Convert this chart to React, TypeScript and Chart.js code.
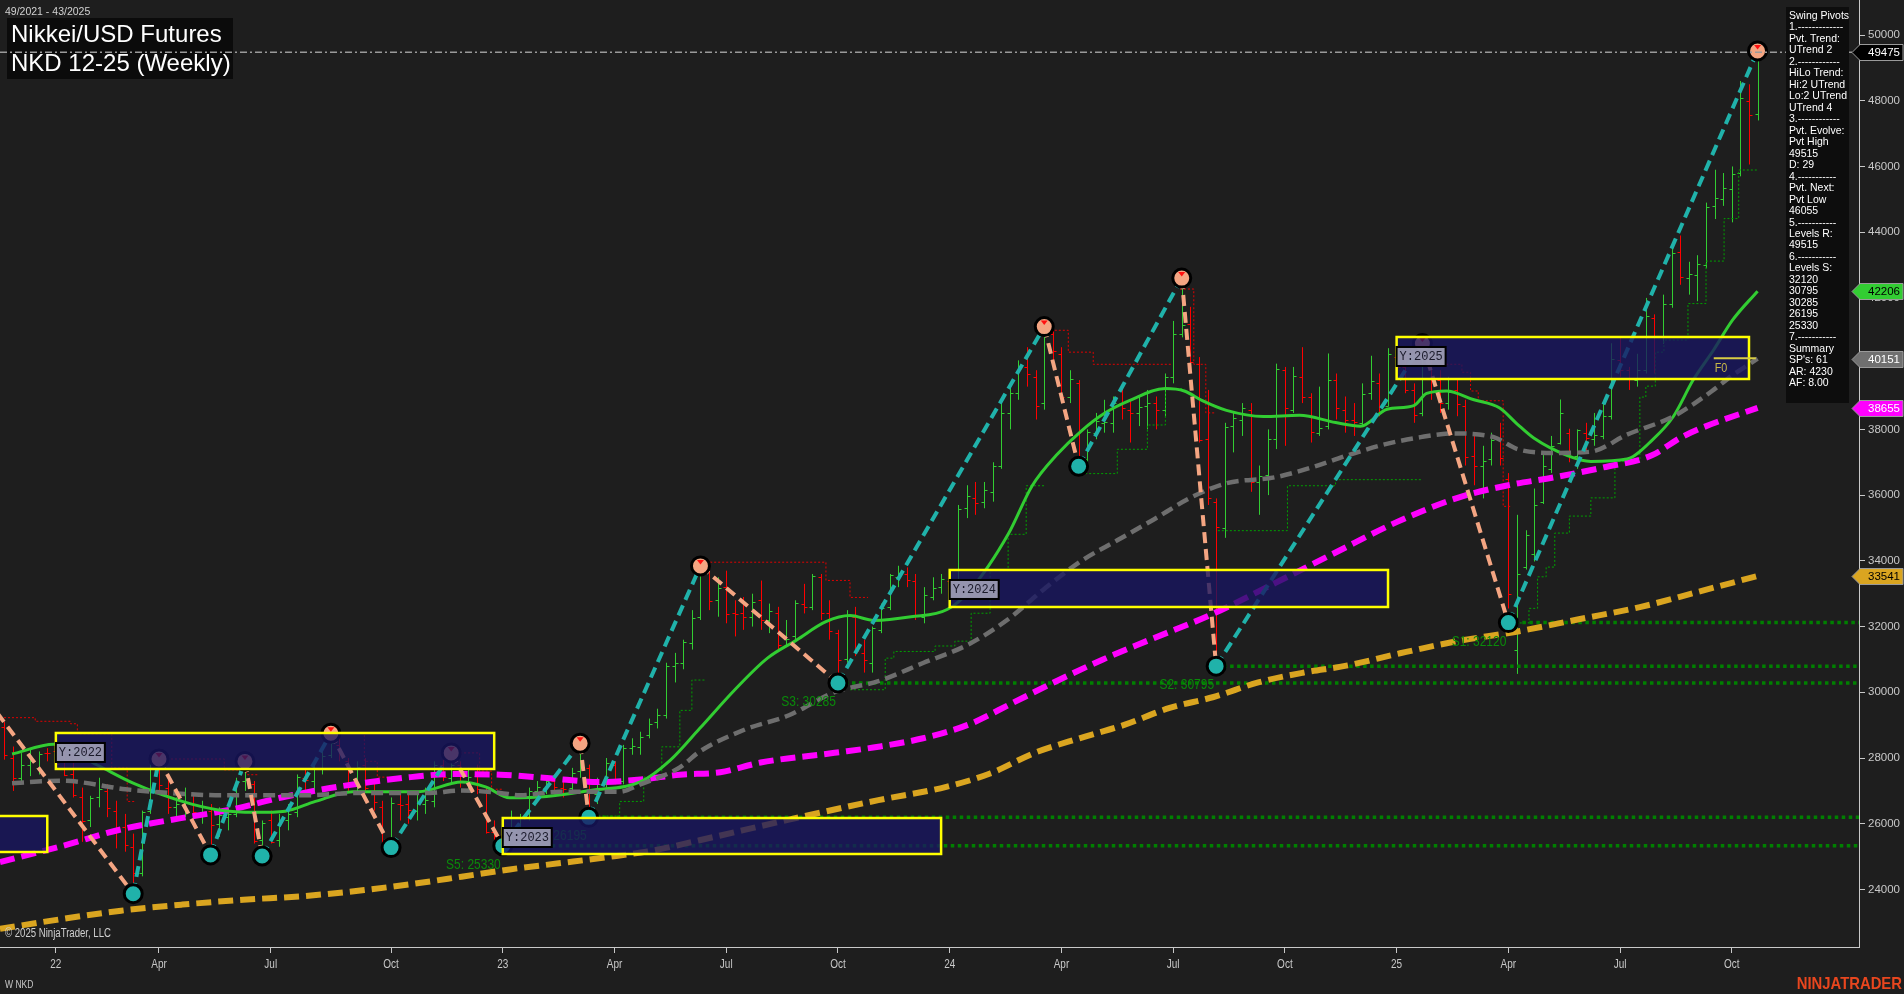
import { useEffect, useRef } from 'react';
import { Chart, registerables } from 'chart.js';

Chart.register(...registerables);

// ---------------- data ----------------
// weeks are counted from the weekly bar of 7 Jan 2022 (= week 0)
const FIRST_BAR_WEEK = -6;
const X_MIN = -6.5;
const X_MAX = 209.8;
const Y_MIN = 22250;
const Y_MAX = 51065;

// [open, high, low, close]
const ohlc2021 = [
  [28950, 29100, 27950, 28100], [28000, 28350, 27000, 27380], [27400, 28150, 27200, 27790],
  [27800, 28300, 27450, 27900], [27700, 28200, 27500, 28130], [28150, 28300, 27900, 28140],
];
const ohlc2022 = [
  [28200, 28700, 27800, 27830], [27900, 28300, 27450, 27470], [27500, 27900, 26800, 26870],
  [26800, 27100, 25450, 26070], [26100, 26850, 25900, 26790], [26800, 27400, 26500, 27050],
  [27000, 27200, 26200, 26470], [26400, 26700, 25250, 25830], [25900, 26300, 25150, 25340],
  [25300, 25700, 23870, 24510], [24500, 26400, 24400, 26350], [26400, 27900, 26300, 27670],
  [27700, 27970, 27000, 27190], [27100, 27400, 26300, 26500], [26500, 26800, 26100, 26610],
  [26600, 27100, 26200, 26620], [26600, 26900, 25900, 26370], [26300, 26700, 26000, 26520],
  [26400, 26600, 25050, 25950], [26000, 26500, 25600, 26260], [26200, 26500, 25800, 26300],
  [26300, 27400, 26200, 27280], [27300, 27900, 27000, 27340], [27200, 27300, 25400, 25480],
  [25500, 26100, 25020, 26010], [26100, 26400, 25400, 25450], [25500, 26300, 25300, 26040],
  [26100, 26600, 25800, 26310], [26350, 27500, 26200, 27430], [27400, 27700, 27000, 27320],
  [27300, 27800, 27000, 27700], [27700, 28300, 27500, 28070], [28100, 28750, 28000, 28450],
  [28400, 28600, 27900, 28160], [27900, 28000, 27000, 27170], [27200, 27900, 26900, 27730],
  [27800, 28000, 27000, 27090], [27000, 27300, 26400, 26670], [26500, 26700, 25400, 25460],
  [25400, 26800, 25270, 26640], [26600, 26900, 26100, 26580], [26600, 26900, 26000, 26410],
  [26400, 26900, 26100, 26620], [26600, 27100, 26300, 26720], [26700, 27900, 26500, 27780],
  [27800, 28000, 27300, 27420], [27400, 28160, 27200, 27800], [27800, 27900, 27100, 27300],
  [27300, 27700, 27000, 27420], [27450, 27800, 26900, 27050], [27000, 27100, 25700, 25760],
  [25750, 26100, 25400, 25620],
];
const ohlc2023 = [
  [25600, 25900, 25310, 25640], [25600, 26400, 25500, 25740], [25700, 26300, 25600, 26170],
  [26200, 27100, 26100, 27000], [27000, 27300, 26700, 27130], [27100, 27400, 26900, 27290],
  [27300, 27500, 26900, 27130], [27100, 27400, 26800, 27070], [27100, 27700, 26900, 27550],
  [27600, 28450, 27400, 27760], [27700, 27800, 26160, 26950], [26900, 27400, 26600, 27200],
  [27200, 28000, 27100, 27840], [27800, 27900, 27200, 27320], [27300, 28400, 27200, 28300],
  [28300, 28600, 28100, 28360], [28350, 28800, 28100, 28650], [28700, 29200, 28600, 29050],
  [29100, 29500, 28900, 29300], [29300, 30900, 29200, 30800], [30800, 31200, 30300, 30900],
  [30900, 31600, 30700, 31520], [31500, 32500, 31300, 32270], [32300, 33846, 32200, 33700],
  [33700, 33800, 32500, 32780], [32800, 33500, 32300, 33180], [33200, 33700, 32100, 32390],
  [32400, 32800, 31700, 32380], [32400, 32900, 31900, 32300], [32300, 33000, 32000, 32760],
  [32800, 33400, 31900, 32190], [32200, 32700, 31800, 32470], [32400, 32600, 31300, 31450],
  [31400, 32200, 31400, 31620], [31700, 32800, 31600, 32710], [32700, 33300, 32400, 32600],
  [32600, 33600, 32500, 33530], [33500, 33600, 32200, 32400], [32400, 32800, 31600, 31850],
  [31800, 31900, 30270, 30990], [31000, 32500, 30900, 32310], [32300, 32600, 31100, 31260],
  [31200, 31600, 30600, 30990], [30900, 32000, 30600, 31950], [31900, 32700, 31800, 32570],
  [32600, 33600, 32500, 33580], [33500, 33850, 33200, 33630], [33600, 33800, 33200, 33430],
  [33400, 33600, 32200, 32310], [32300, 33200, 32100, 32970], [32900, 33500, 32800, 33170],
  [33200, 33600, 33000, 33460],
];
const ohlc2024 = [
  [33400, 33600, 32800, 33380], [33400, 35700, 33300, 35580], [35600, 36300, 35300, 35960],
  [35900, 36400, 35400, 35750], [35800, 36400, 35600, 36160], [36100, 37000, 35800, 36900],
  [36900, 38800, 36800, 38490], [38500, 39300, 38000, 39100], [39100, 40100, 38900, 39910],
  [39900, 40500, 39300, 39690], [39600, 39800, 38300, 38710], [38800, 41127, 38600, 40890],
  [40900, 41000, 40000, 40370], [40300, 40500, 38800, 38990], [39000, 39800, 38800, 39520],
  [39400, 39500, 36880, 37070], [37100, 38000, 37000, 37930], [37900, 38500, 37700, 38240],
  [38200, 38900, 37900, 38230], [38200, 39000, 37900, 38790], [38800, 39400, 38300, 38650],
  [38600, 38900, 37600, 38490], [38500, 39000, 38100, 38680], [38700, 39200, 38000, 38810],
  [38800, 39000, 38000, 38600], [38600, 39700, 38400, 39580], [39600, 41300, 39400, 40910],
  [40900, 42603, 40800, 41190], [41200, 41730, 39800, 40060], [40000, 40200, 37600, 37670],
  [37700, 39200, 35700, 35910], [35800, 35900, 30780, 35020], [35000, 38200, 34700, 38060],
  [38100, 38500, 37300, 38360], [38300, 38800, 37800, 38650], [38600, 38800, 36100, 36390],
  [36400, 36900, 35400, 36580], [36600, 38000, 36000, 37720], [37700, 40000, 37400, 39830],
  [39800, 39900, 37500, 38640], [38600, 39900, 38500, 39610], [39600, 40500, 38800, 38980],
  [39000, 39100, 37600, 37910], [37900, 39300, 37800, 38050], [38100, 40310, 38000, 39500],
  [39500, 39700, 38300, 38640], [38600, 39000, 37900, 38280], [38300, 38800, 37800, 38210],
  [38200, 39400, 38100, 39090], [39100, 40240, 38900, 39470], [39400, 39700, 38400, 38700],
  [38700, 40470, 38700, 40280],
];
const ohlc2025 = [
  [40200, 40300, 39500, 39900], [39900, 40300, 39100, 39190], [39200, 39400, 38200, 38450],
  [38500, 40610, 38400, 39930], [39900, 40300, 38900, 39570], [39500, 39800, 38500, 38790],
  [38800, 39600, 38600, 39150], [39200, 39500, 38400, 38780], [38700, 38900, 36900, 37160],
  [37200, 37800, 36300, 36890], [36900, 37500, 35900, 37050], [37100, 37900, 36900, 37680],
  [37700, 38200, 36900, 37120], [36500, 36670, 32550, 33000], [31300, 35400, 30560, 33600],
  [33800, 34930, 33735, 34800], [34200, 36200, 33980, 35700], [35800, 37320, 35730, 36900],
  [36800, 37800, 36670, 37500], [37600, 38910, 37540, 38500], [37900, 38020, 37000, 37200],
  [37200, 38000, 36800, 37970], [37900, 38200, 37300, 37740], [37700, 38500, 37500, 37830],
  [37800, 38800, 37700, 38400], [38400, 40620, 38300, 40150], [40100, 40800, 39600, 39810],
  [39800, 39900, 39200, 39570], [39500, 40300, 39300, 39820], [39800, 42000, 39700, 41460],
  [41400, 41500, 39700, 40800], [40800, 42100, 40600, 41820], [41800, 43600, 41700, 43380],
  [43400, 43900, 42400, 42630], [42600, 43100, 42100, 42720], [42700, 43300, 41900, 43020],
  [43000, 44900, 42900, 44770], [44800, 45900, 44400, 45050], [45000, 45800, 44800, 45350],
  [45300, 46000, 44300, 45770], [45800, 48600, 45700, 48090], [48000, 48500, 46060, 47580],
  [47600, 49515, 47400, 49475],
];

const xTickWeeks = [0, 12, 25, 39, 52, 65, 78, 91, 104, 117, 130, 143, 156, 169, 182, 195];
const xTickLabels = ['22', 'Apr', 'Jul', 'Oct', '23', 'Apr', 'Jul', 'Oct', '24', 'Apr', 'Jul', 'Oct', '25', 'Apr', 'Jul', 'Oct'];
const yTickValues = [24000, 26000, 28000, 30000, 32000, 34000, 36000, 38000, 40000, 42000, 44000, 46000, 48000, 50000];

// swing pivots (alternating high / low), first one lies left of the visible range
const pivotWeeks = [-8, 9, 12, 18, 22, 24, 32, 39, 46, 52, 61, 62, 75, 91, 115, 119, 131, 135, 159, 169, 198];
const pivotValues = [29780, 23872, 27970, 25053, 27898, 25017, 28754, 25274, 28156, 25330, 28451, 26195, 33846, 30285, 41127, 36876, 42603, 30795, 40610, 32120, 49515];

// moving averages [week, value]
const greenMA: [number, number][] = [
  [-5.1, 28121], [-0.2, 28416], [4.8, 27788], [9.0, 27234], [14.7, 26680], [18.9, 26421], [23.2, 26347],
  [26.7, 26384], [30.2, 26680], [34.5, 26976], [38.7, 26976], [42.2, 26976], [47.2, 27271], [50.0, 27123],
  [52.8, 26791], [57.1, 26828], [62.2, 27013], [68.0, 27271], [71.5, 27936], [74.9, 28897], [79.0, 30079],
  [82.8, 31040], [86.2, 31594], [89.6, 32149], [92.4, 32333], [95.2, 32185], [99.5, 32296], [103.7, 32518],
  [106.5, 33146], [110.8, 34809], [113.6, 36286], [116.4, 37210], [119.3, 37949], [122.1, 38503],
  [124.9, 38873], [129.1, 39242], [131.3, 39168], [133.4, 38873], [136.2, 38577], [140.5, 38392],
  [144.7, 38429], [148.9, 38207], [151.8, 38097], [154.9, 38614], [158.0, 38725], [159.5, 39094],
  [161.8, 39168], [164.9, 38910], [168.0, 38651], [170.0, 38170], [172.0, 37727], [175.8, 37210],
  [178.6, 37025], [182.8, 37099], [185.8, 37690], [188.2, 38392], [190.5, 39500], [192.9, 40424],
  [195.1, 41329], [198, 42206],
];
const grayMA: [number, number][] = [
  [-5.1, 27234], [0.6, 27308], [8.1, 27050], [11.2, 26976], [19.6, 26865], [28.4, 26865], [35.9, 26939],
  [43.5, 26939], [47.1, 27013], [51.7, 26939], [54.0, 26865], [58.6, 26976], [65.6, 26976], [68.0, 27197],
  [72.6, 27715], [74.9, 28195], [80.1, 28860], [85.3, 29303], [90.6, 30005], [95.7, 30338], [100.9, 30892],
  [106.1, 31446], [110.8, 32222], [115.0, 33146], [119.3, 33996], [123.5, 34624], [127.7, 35252],
  [132.0, 35917], [136.2, 36360], [141.9, 36545], [146.1, 36840], [150.3, 37210], [154.6, 37542],
  [158.8, 37764], [162.6, 37875], [167.3, 37764], [170.1, 37395], [174.4, 37284], [178.6, 37321],
  [182.8, 37838], [188.2, 38392], [190.5, 38762], [192.7, 39168], [195.1, 39650], [198, 40151],
];
const magentaMA: [number, number][] = [
  [-6.5, 24833], [0.6, 25313], [7.6, 25830], [14.4, 26163], [20.2, 26421], [26.1, 26791], [31.9, 27086],
  [36.6, 27271], [41.3, 27419], [45.9, 27511], [51.7, 27493], [57.5, 27382], [63.3, 27271], [68.0, 27345],
  [72.6, 27493], [77.3, 27567], [82.0, 27862], [90.6, 28158], [95.7, 28343], [100.9, 28601], [106.1, 29008],
  [111.3, 29673], [116.4, 30338], [121.7, 30984], [126.9, 31557], [134.8, 32407], [141.9, 33330],
  [148.9, 34254], [156.0, 35178], [163.1, 35917], [168.7, 36286], [174.4, 36545], [180.0, 36840],
  [185.7, 37210], [188.9, 37727], [191.3, 38023], [198, 38655],
];
const goldMA: [number, number][] = [
  [-6.5, 22801], [0.6, 23096], [7.6, 23355], [14.7, 23540], [21.8, 23687], [28.8, 23798], [35.9, 23983],
  [41.5, 24168], [47.2, 24389], [52.8, 24611], [58.5, 24796], [64.1, 24981], [69.8, 25202], [74.9, 25498],
  [85.3, 26126], [95.7, 26718], [103.6, 27124], [108.7, 27530], [113.9, 28158], [119.1, 28601],
  [124.3, 29008], [129.6, 29525], [134.7, 29857], [139.9, 30301], [145.1, 30596], [150.3, 30818],
  [156.4, 31187], [163.1, 31557], [170.1, 31852], [177.2, 32222], [184.3, 32592], [191.3, 33072],
  [198, 33541],
];

// stepped trailing lines [week, value]; each value holds until the next point
const redTrails: [number, number][][] = [
  [[-6.5, 29228], [-2.4, 29118], [1.7, 29043], [2.5, 28729], [6.5, 27713], [8.3, 26678], [9.3, 26678]],
  [[12, 27970], [19.6, 27640], [22.2, 27492], [23.6, 27492]],
  [[31.9, 28747], [35.9, 27898], [37.4, 27418], [38.9, 27418]],
  [[46.1, 28156], [49.3, 27602], [50.7, 27050], [52, 27050]],
  [[75.2, 33958], [89.6, 33404], [92.4, 32886], [94.5, 32886]],
  [[115.3, 41015], [117.8, 40350], [120.7, 39980], [129.8, 39980]],
  [[130.8, 42271], [132.4, 39980], [133.8, 38502], [134.9, 38502]],
  [[159, 40350], [160.7, 39980], [163.6, 39737], [164.6, 39168], [165.5, 38872], [168.4, 35657], [169.4, 35657]],
];
const greenTrails: [number, number][][] = [
  [[62.2, 26235], [65.6, 26679], [68.4, 27418], [70.5, 28341], [72.6, 29450], [74.0, 30373], [75.5, 30373]],
  [[92.4, 30078], [96.5, 31039], [97.5, 31242], [102.3, 31409], [104.6, 31556], [106.5, 32406],
    [108.7, 33700], [110.8, 34807], [112.9, 36285], [115, 36285]],
  [[119.3, 36655], [123.5, 37394], [127, 38133], [129.1, 39241], [131.3, 39241]],
  [[135.2, 34918], [143.3, 36285], [148.9, 36470], [159, 36470]],
  [[169.4, 32110], [171.4, 32554], [172.4, 33514], [173.4, 33810], [174.4, 34845], [176.1, 35362],
    [178.6, 35916], [181.4, 37024], [184.3, 38983], [185.0, 39315], [186.1, 40350], [187.1, 40719],
    [189.9, 41828], [192.0, 43121], [194.1, 44414], [195.8, 45892], [198, 45892]],
];

const supportNames = ['S1', 'S2', 'S3', 'S4', 'S5'];
const supportValues = [32120, 30795, 30285, 26195, 25330];
const supportWeeks = [169, 135, 91, 62, 52];

const yearNames = ['', 'Y:2022', 'Y:2023', 'Y:2024', 'Y:2025'];
const yearStartWeeks = [-12, 0, 52, 104, 156];
const yearEndWeeks = [-1, 51, 103, 155, 197];
const yearHighs = [26236, 28762, 26175, 33722, 40811];
const yearLows = [25141, 27667, 25080, 32596, 39533];

const f0Value = 40162;
const f0Weeks = [192.9, 197.8];

const legendLines = [
  'Swing Pivots', '1.-------------', 'Pvt. Trend:', 'UTrend 2', '2.------------', 'HiLo Trend:',
  'Hi:2 UTrend', 'Lo:2 UTrend', 'UTrend 4', '3.------------', 'Pvt. Evolve:', 'Pvt High', '49515',
  'D: 29', '4.-----------', 'Pvt. Next:', 'Pvt Low', '46055', '5.-----------', 'Levels R:', '49515',
  '6.-----------', 'Levels S:', '32120', '30795', '30285', '26195', '25330', '7.-----------',
  'Summary', "SP's: 61", 'AR: 4230', 'AF: 8.00',
];

// ---------------- styling ----------------
const BG = '#1e1e1e';
const TEAL = '#20b2aa';
const SALMON = '#f4a582';
const SANS = "'Liberation Sans', Arial, sans-serif";
const MONO = "'Liberation Mono', 'DejaVu Sans Mono', monospace";

const bars = [...ohlc2021, ...ohlc2022, ...ohlc2023, ...ohlc2024, ...ohlc2025];
const lastClose = bars[bars.length - 1][3];

function txt(ctx: CanvasRenderingContext2D, s: string, x: number, y: number, font: string, color: string,
  align: CanvasTextAlign = 'left', sx = 1) {
  ctx.save();
  ctx.font = font;
  ctx.fillStyle = color;
  ctx.textAlign = align;
  ctx.textBaseline = 'middle';
  ctx.translate(x, y);
  ctx.scale(sx, 1);
  ctx.fillText(s, 0, 0);
  ctx.restore();
}

const bgPlugin = {
  id: 'bg',
  beforeDraw(chart: any) {
    const { ctx, width, height } = chart;
    ctx.save();
    ctx.fillStyle = BG;
    ctx.fillRect(0, 0, width, height);
    ctx.restore();
  },
};

const ohlcPlugin = {
  id: 'ohlc',
  beforeDatasetsDraw(chart: any) {
    const { ctx, chartArea: a } = chart;
    const xs = chart.scales.x, ys = chart.scales.y;
    ctx.save();
    ctx.beginPath();
    ctx.rect(a.left, a.top, a.right - a.left, a.bottom - a.top);
    ctx.clip();
    ctx.lineWidth = 1;
    bars.forEach((b, i) => {
      const [o, h, l, c] = b;
      const px = Math.round(xs.getPixelForValue(FIRST_BAR_WEEK + i)) + 0.5;
      const yo = Math.round(ys.getPixelForValue(o)) + 0.5;
      const yc = Math.round(ys.getPixelForValue(c)) + 0.5;
      ctx.strokeStyle = c >= o ? '#32cd32' : '#ff0000';
      ctx.beginPath();
      ctx.moveTo(px, ys.getPixelForValue(h));
      ctx.lineTo(px, ys.getPixelForValue(l));
      ctx.moveTo(px - 3, yo);
      ctx.lineTo(px, yo);
      ctx.moveTo(px, yc);
      ctx.lineTo(px + 3, yc);
      ctx.stroke();
    });
    ctx.restore();
  },
};

const overlayPlugin = {
  id: 'overlay',
  afterDatasetsDraw(chart: any) {
    const { ctx, chartArea: a } = chart;
    const xs = chart.scales.x, ys = chart.scales.y;
    ctx.save();
    ctx.beginPath();
    ctx.rect(a.left, a.top, a.right - a.left, a.bottom - a.top);
    ctx.clip();

    // red triangles in swing-high markers
    pivotWeeks.forEach((w, i) => {
      if (i % 2 !== 0 || i === 0) return;
      const px = xs.getPixelForValue(w), py = ys.getPixelForValue(pivotValues[i]);
      ctx.fillStyle = '#ff1010';
      ctx.beginPath();
      ctx.moveTo(px - 3.5, py - 6);
      ctx.lineTo(px + 3.5, py - 6);
      ctx.lineTo(px, py - 1.5);
      ctx.closePath();
      ctx.fill();
    });

    // support labels
    supportNames.forEach((n, i) => {
      const px = xs.getPixelForValue(supportWeeks[i]);
      const py = ys.getPixelForValue(supportValues[i]);
      txt(ctx, `${n}: ${supportValues[i]}`, px - 2, py + 19, `15px ${SANS}`, '#0a8a0a', 'right', 0.8);
    });

    // yearly boxes
    yearNames.forEach((n, i) => {
      const x1 = xs.getPixelForValue(yearStartWeeks[i]);
      const x2 = xs.getPixelForValue(yearEndWeeks[i]);
      const y1 = ys.getPixelForValue(yearHighs[i]);
      const y2 = ys.getPixelForValue(yearLows[i]);
      ctx.fillStyle = 'rgba(24,22,98,0.78)';
      ctx.fillRect(x1, y1, x2 - x1, y2 - y1);
      ctx.strokeStyle = '#ffff00';
      ctx.lineWidth = 2.5;
      ctx.strokeRect(x1, y1, x2 - x1, y2 - y1);
    });
    yearNames.forEach((n, i) => {
      if (!n) return;
      const x1 = xs.getPixelForValue(yearStartWeeks[i]);
      const y1 = ys.getPixelForValue(yearHighs[i]);
      ctx.fillStyle = 'rgba(160,160,182,0.92)';
      ctx.fillRect(x1, y1 + 10, 49, 19);
      ctx.strokeStyle = '#000';
      ctx.lineWidth = 2;
      ctx.strokeRect(x1, y1 + 10, 49, 19);
      txt(ctx, n, x1 + 3, y1 + 20, `12px ${MONO}`, '#1a1a2a');
    });

    // F0 line
    const fy = ys.getPixelForValue(f0Value);
    const fx1 = xs.getPixelForValue(f0Weeks[0]);
    const fx2 = xs.getPixelForValue(f0Weeks[1]);
    ctx.strokeStyle = '#d8cc44';
    ctx.lineWidth = 2;
    ctx.beginPath();
    ctx.moveTo(fx1, fy);
    ctx.lineTo(fx2, fy);
    ctx.stroke();
    txt(ctx, 'F0', fx1 + 1, fy + 10, `12px ${SANS}`, '#c8b848', 'left', 0.9);
    ctx.restore();
  },
  afterDraw(chart: any) {
    const { ctx, chartArea: a, width } = chart;
    const ys = chart.scales.y;
    const xs = chart.scales.x;
    ctx.save();

    // x labels (condensed)
    xs.ticks.forEach((t: any) => {
      const i = xTickWeeks.indexOf(t.value);
      if (i < 0) return;
      txt(ctx, xTickLabels[i], xs.getPixelForValue(t.value), 965, `12.5px ${SANS}`, '#c8c8c8', 'center', 0.8);
    });

    // title block
    txt(ctx, '49/2021 - 43/2025', 5, 12, `10.5px ${SANS}`, '#d2d2d2');
    ctx.fillStyle = '#0b0b0b';
    ctx.fillRect(7, 18, 226, 61);
    txt(ctx, 'Nikkei/USD Futures', 11, 35, `24px ${SANS}`, '#ffffff');
    txt(ctx, 'NKD 12-25 (Weekly)', 11, 64, `24px ${SANS}`, '#ffffff');

    // current price dash-dot line
    const cy = ys.getPixelForValue(lastClose);
    ctx.strokeStyle = '#9a9a9a';
    ctx.lineWidth = 1.5;
    ctx.setLineDash([7, 3, 2, 3]);
    ctx.beginPath();
    ctx.moveTo(a.left, cy);
    ctx.lineTo(a.right, cy);
    ctx.stroke();
    ctx.setLineDash([]);

    // swing pivots panel
    ctx.fillStyle = '#0d0d0d';
    ctx.fillRect(1786, 7, 63, 396);
    legendLines.forEach((s, i) => {
      txt(ctx, s, 1789, 16 + i * 11.48, `10.5px ${SANS}`, '#ffffff');
    });

    // price flags on the axis
    const flags: [number, string, string][] = [
      [lastClose, '#000000', '#ffffff'],
      [greenMA[greenMA.length - 1][1], '#32cd32', '#000000'],
      [grayMA[grayMA.length - 1][1], '#707070', '#ffffff'],
      [magentaMA[magentaMA.length - 1][1], '#ff00ff', '#ffffff'],
      [goldMA[goldMA.length - 1][1], '#daa520', '#000000'],
    ];
    flags.forEach(([v, bg, fg]) => {
      const y = Math.round(ys.getPixelForValue(v)) + 0.5;
      ctx.beginPath();
      ctx.moveTo(a.right - 7, y);
      ctx.lineTo(a.right + 1, y - 8);
      ctx.lineTo(width - 1, y - 8);
      ctx.lineTo(width - 1, y + 8);
      ctx.lineTo(a.right + 1, y + 8);
      ctx.closePath();
      ctx.fillStyle = bg;
      ctx.fill();
      ctx.strokeStyle = '#9a9a9a';
      ctx.lineWidth = 1;
      ctx.stroke();
      txt(ctx, String(v), a.right + 9, y + 0.5, `11.5px ${SANS}`, fg);
    });

    // footer texts
    txt(ctx, '\u00a9 2025 NinjaTrader, LLC', 5, 934, `12px ${SANS}`, '#d0d0d0', 'left', 0.8);
    txt(ctx, 'W NKD', 5, 985, `10px ${SANS}`, '#c8c8c8', 'left', 0.85);
    txt(ctx, 'NINJATRADER', 1902, 984, `bold 16.5px ${SANS}`, '#e8461e', 'right', 0.9);
    ctx.restore();
  },
};

function maDataset(pts: [number, number][], color: string, width: number, dash: number[], order: number) {
  return {
    type: 'line' as const,
    data: pts.map(([x, y]) => ({ x, y })),
    borderColor: color,
    borderWidth: width,
    borderDash: dash,
    pointRadius: 0,
    cubicInterpolationMode: 'monotone' as const,
    tension: 0.4,
    fill: false,
    clip: 0,
    order,
  };
}

function trailDataset(pts: [number, number][], color: string) {
  return {
    type: 'line' as const,
    data: pts.map(([x, y]) => ({ x, y })),
    borderColor: color,
    borderWidth: 1,
    borderDash: [2, 2],
    stepped: 'before' as const,
    pointRadius: 0,
    fill: false,
    clip: 0,
    order: 7,
  };
}

export default function App() {
  const ref = useRef<HTMLCanvasElement | null>(null);

  useEffect(() => {
    document.body.style.margin = '0';
    const canvas = ref.current;
    if (!canvas) return;

    const zigzag = {
      type: 'line' as const,
      data: pivotWeeks.map((w, i) => ({ x: w, y: pivotValues[i] })),
      borderWidth: 4,
      borderDash: [11, 6],
      borderColor: TEAL,
      segment: {
        borderColor: (c: any) => (c.p1.parsed.y > c.p0.parsed.y ? TEAL : SALMON),
      },
      pointRadius: pivotWeeks.map((_, i) => (i === 0 ? 0 : 9)),
      pointBackgroundColor: pivotWeeks.map((_, i) => (i % 2 === 0 ? SALMON : TEAL)),
      pointBorderColor: '#000000',
      pointBorderWidth: 3,
      tension: 0,
      fill: false,
      clip: 0,
      order: 0,
    };

    const levels = supportValues.map((v, i) => ({
      type: 'line' as const,
      data: [{ x: supportWeeks[i], y: v }, { x: X_MAX, y: v }],
      borderColor: '#008000',
      borderWidth: 3.5,
      borderDash: [3.5, 3.5],
      pointRadius: 0,
      fill: false,
      clip: 0,
      order: 6,
    }));

    const chart = new Chart(canvas, {
      type: 'line',
      data: {
        datasets: [
          zigzag,
          maDataset(grayMA, '#6e6e6e', 4.5, [12, 6], 1),
          maDataset(greenMA, '#32cd32', 3, [], 2),
          maDataset(magentaMA, '#ff00ff', 6, [15, 7], 3),
          maDataset(goldMA, '#daa520', 6, [15, 7], 4),
          ...levels,
          ...redTrails.map((t) => trailDataset(t, '#e00000')),
          ...greenTrails.map((t) => trailDataset(t, '#00a000')),
        ] as any,
      },
      options: {
        animation: false,
        responsive: true,
        maintainAspectRatio: false,
        events: [],
        layout: { padding: 0, autoPadding: false },
        plugins: { legend: { display: false }, tooltip: { enabled: false } },
        scales: {
          x: {
            type: 'linear',
            position: 'bottom',
            min: X_MIN,
            max: X_MAX,
            afterBuildTicks: (s: any) => {
              s.ticks = xTickWeeks.map((v) => ({ value: v }));
            },
            afterFit: (s: any) => {
              s.height = 47;
              s.paddingLeft = 0;
              s.paddingRight = 0;
            },
            ticks: { display: false, autoSkip: false },
            grid: { display: true, drawOnChartArea: false, drawTicks: true, tickLength: 6, color: '#c8c8c8' },
            border: { display: true, color: '#c8c8c8', width: 1 },
          },
          y: {
            type: 'linear',
            position: 'right',
            min: Y_MIN,
            max: Y_MAX,
            afterBuildTicks: (s: any) => {
              s.ticks = yTickValues.map((v) => ({ value: v }));
            },
            afterFit: (s: any) => {
              s.width = 45;
              s.paddingTop = 0;
              s.paddingBottom = 0;
            },
            ticks: {
              autoSkip: false,
              color: '#c8c8c8',
              padding: 3,
              font: { size: 11.5, family: SANS },
              callback: (v: any) => String(v),
            },
            grid: { display: true, drawOnChartArea: false, drawTicks: true, tickLength: 6, color: '#c8c8c8' },
            border: { display: true, color: '#c8c8c8', width: 1 },
          },
        },
      },
      plugins: [bgPlugin, ohlcPlugin, overlayPlugin],
    });

    return () => chart.destroy();
  }, []);

  return (
    <div style={{ position: 'fixed', left: 0, top: 0, width: 1904, height: 994, background: BG }}>
      <canvas ref={ref} />
    </div>
  );
}
